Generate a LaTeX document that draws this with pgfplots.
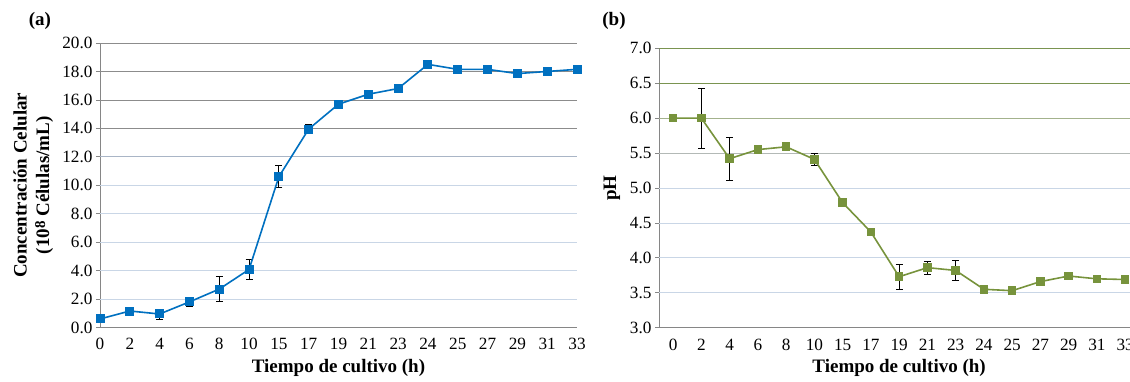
\documentclass[border=0pt]{standalone}
\usepackage{fontspec}
\setmainfont{Liberation Serif}
\usepackage{pgfplots}
\usepackage{pgfplotstable}
\pgfplotsset{compat=1.18}
\definecolor{blueA}{HTML}{0070C0}
\definecolor{greenB}{HTML}{77933C}
\definecolor{axgray}{HTML}{868686}
\definecolor{gridDark}{HTML}{8C8C8C}
\definecolor{gridMid}{HTML}{A9B5C6}
\definecolor{gridLight}{HTML}{C9D6E6}
\definecolor{gridOlive}{HTML}{7A9450}
\definecolor{gridGG}{HTML}{A3B28C}
\definecolor{gridG}{HTML}{B3B9B6}

\pgfplotstableread{
x y e
0 0.60 0
1 1.16 0
2 0.95 0.35
3 1.80 0.30
4 2.70 0.87
5 4.08 0.73
6 10.60 0.77
7 13.95 0.30
8 15.70 0.20
9 16.40 0
10 16.80 0
11 18.50 0
12 18.15 0.20
13 18.15 0
14 17.85 0
15 18.00 0
16 18.15 0
}\tableA

\pgfplotstableread{
x y e
0 6.00 0
1 6.00 0.43
2 5.42 0.31
3 5.55 0
4 5.59 0
5 5.41 0.09
6 4.79 0
7 4.37 0
8 3.73 0.18
9 3.86 0.09
10 3.82 0.14
11 3.55 0
12 3.53 0
13 3.66 0
14 3.74 0
15 3.70 0
16 3.69 0
}\tableB

\pgfplotsset{
  common/.style={
    scale only axis,
    anchor=south west,
    axis x line=bottom, axis y line=left,
    axis line style={-, draw=axgray, line width=0.8pt},
    tick align=outside,
    major tick length=4pt,
    xtick style={draw=none},
    ytick style={draw=axgray, line width=0.8pt},
    xtick={0,...,16},
    xticklabels={0,2,4,6,8,10,15,17,19,21,23,24,25,27,29,31,33},
    tick label style={font=\fontsize{17.2}{20}\selectfont, black},
    /pgf/number format/assume math mode=true,
    yticklabel style={/pgf/number format/.cd, fixed, fixed zerofill, precision=1},
    xticklabel style={yshift=-3.5pt},
    xlabel={Tiempo de cultivo (h)},
    label style={font=\fontsize{19}{22.5}\bfseries},
    xlabel style={at={(rel axis cs:0.5,0)}, anchor=center, yshift=-40pt},
    clip=false,
  },
  ebars/.style={
    draw=none, forget plot, mark=none,
    error bars/.cd, y dir=both, y explicit,
    error bar style={draw=black, line width=0.8pt, solid},
    error mark options={draw=black, mark size=3.5pt, line width=0.8pt, rotate=90},
  },
}

\begin{document}
\begin{tikzpicture}[x=1pt,y=1pt]
% ---------------- (a) ----------------
\begin{axis}[common,
  at={(100pt,-327.5pt)},
  width=477pt, height=284.5pt,
  xmin=0, xmax=16, ymin=0, ymax=20,
  ytick={0,2,...,20},
  ylabel={Concentración Celular\\(10\raisebox{0.45ex}{\fontsize{15}{15}\selectfont 8} Células/mL)},
  ylabel style={align=center, at={(rel axis cs:-0.14,0.5)}, anchor=center},
]
\pgfplotsinvokeforeach{14,16,18,20}{\draw[gridDark, line width=0.8pt] (axis cs:0,#1) -- (axis cs:16,#1);}
\draw[gridMid, line width=0.8pt] (axis cs:0,12) -- (axis cs:16,12);
\pgfplotsinvokeforeach{2,4,6,8,10}{\draw[gridLight, line width=0.8pt] (axis cs:0,#1) -- (axis cs:16,#1);}
\addplot[ebars] table[x=x, y=y, y error=e] {\tableA};
\addplot[blueA, line width=1.6pt, mark=square*, mark size=3.7pt, mark options={solid, fill=blueA, draw=blueA}]
  table[x=x, y=y] {\tableA};
\end{axis}
% ---------------- (b) ----------------
\begin{axis}[common,
  at={(659pt,-327.7pt)},
  width=480.25pt, height=279.4pt,
  xmin=-0.5, xmax=16.5, ymin=3, ymax=7,
  ytick={3,3.5,...,7},
  ylabel={pH},
  ylabel style={at={(rel axis cs:-0.098,0.5)}, anchor=center},
]
\pgfplotsinvokeforeach{6.5,7}{\draw[gridOlive, line width=0.8pt] (axis cs:-0.5,#1) -- (axis cs:16.5,#1);}
\draw[gridGG, line width=0.8pt] (axis cs:-0.5,6) -- (axis cs:16.5,6);
\draw[gridG, line width=0.8pt] (axis cs:-0.5,5.5) -- (axis cs:16.5,5.5);
\pgfplotsinvokeforeach{3.5,4,4.5,5}{\draw[gridLight, line width=0.8pt] (axis cs:-0.5,#1) -- (axis cs:16.5,#1);}
\addplot[ebars] table[x=x, y=y, y error=e] {\tableB};
\addplot[greenB, line width=1.6pt, mark=square*, mark size=3.5pt, mark options={solid, fill=greenB, draw=greenB}]
  table[x=x, y=y] {\tableB};
\end{axis}
\node[font=\fontsize{19}{22.5}\bfseries] at (40pt,-21pt) {(a)};
\node[font=\fontsize{19}{22.5}\bfseries] at (614pt,-21pt) {(b)};
\pgfresetboundingbox
\useasboundingbox (0pt,0pt) rectangle (1130pt,-381pt);
\end{tikzpicture}
\end{document}
